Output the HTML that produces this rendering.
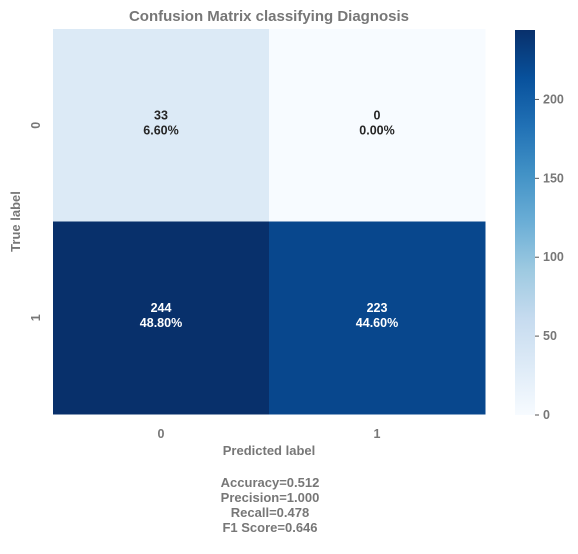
<!DOCTYPE html>
<html><head><meta charset="utf-8"><style>
body{margin:0;background:#fff;font-family:"Liberation Sans",sans-serif;}
svg text{font-family:"Liberation Sans",sans-serif;font-weight:bold;}
</style></head><body>
<svg id="c" width="578" height="549" xmlns="http://www.w3.org/2000/svg">
<defs><linearGradient id="cb" x1="0" y1="1" x2="0" y2="0"></linearGradient></defs>
</svg>
<script>
const rowLabels=["0","1"];
const colLabels=["0","1"];
const counts=[[33,0],[244,223]];
const percents=["6.60%","0.00%","48.80%","44.60%"];
const cbTicks=[0,50,100,150,200];
const metrics=["Accuracy=0.512","Precision=1.000","Recall=0.478","F1 Score=0.646"];
const vmin=0,vmax=244;
const blues=["#f7fbff","#deebf7","#c6dbef","#9ecae1","#6baed6","#4292c6","#2171b5","#08519c","#08306b"];
const ns="http://www.w3.org/2000/svg";
const svg=document.getElementById('c');
function hx(h){return [1,3,5].map(i=>parseInt(h.substr(i,2),16));}
function cmap(v){let t=(v-vmin)/(vmax-vmin)*(blues.length-1);let i=Math.min(Math.floor(t),blues.length-2);let f=t-i;const a=hx(blues[i]),b=hx(blues[i+1]);return `rgb(${a.map((x,k)=>Math.round(x+(b[k]-x)*f)).join(',')})`;}
function el(tag,attrs,text){const e=document.createElementNS(ns,tag);for(const k in attrs)e.setAttribute(k,attrs[k]);if(text!==undefined)e.textContent=text;svg.appendChild(e);return e;}
const X0=53,X1=485,Y0=29,Y1=414;
const cw=(X1-X0)/colLabels.length,ch=(Y1-Y0)/rowLabels.length;
const gray="#777";
let t=el('text',{x:(X0+X1)/2,y:21,'text-anchor':'middle','font-size':15,fill:gray},'Confusion Matrix classifying Diagnosis');

counts.forEach((row,r)=>row.forEach((v,c)=>{
  const x=X0+c*cw,y=Y0+r*ch;
  const rc=el('rect',{x:x,y:y,width:cw+0.5,height:ch+0.5,fill:cmap(v)});
  
  
  const col=(v-vmin)/(vmax-vmin)>0.6?'#fff':'#262626';
  const a=el('text',{x:x+cw/2,y:y+ch/2-6,'text-anchor':'middle','font-size':12.5,fill:col},String(v));
  
  const b=el('text',{x:x+cw/2,y:y+ch/2+9,'text-anchor':'middle','font-size':12.5,fill:col},percents[r*2+c]);
  
}));
colLabels.forEach((l,i)=>{const e=el('text',{x:X0+cw*(i+0.5),y:438,'text-anchor':'middle','font-size':12.5,fill:gray},l);
});
rowLabels.forEach((l,i)=>{const y=Y0+ch*(i+0.5);const e=el('text',{x:0,y:0,transform:`translate(40,${y}) rotate(-90)`,'text-anchor':'middle','font-size':12.5,fill:gray},l);
});
t=el('text',{x:(X0+X1)/2,y:455,'text-anchor':'middle','font-size':13,fill:gray},'Predicted label');

t=el('text',{x:0,y:0,transform:`translate(20,${(Y0+Y1)/2}) rotate(-90)`,'text-anchor':'middle','font-size':13,fill:gray},'True label');

metrics.forEach((m,i)=>{const e=el('text',{x:270,y:487+i*15,'text-anchor':'middle','font-size':13,fill:gray},m);
});
// colorbar
const CX=515,CW=20,CY0=30,CY1=415;
const g=svg.querySelector('#cb');
blues.forEach((b,i)=>{const s=document.createElementNS(ns,'stop');s.setAttribute('offset',i/(blues.length-1));s.setAttribute('stop-color',b);g.appendChild(s);});
t=el('rect',{x:CX,y:CY0,width:CW,height:CY1-CY0,fill:'url(#cb)'});

function cy(v){return CY1-(v-vmin)/(vmax-vmin)*(CY1-CY0);}
cbTicks.forEach(v=>{const y=cy(v);
  const l=el('line',{x1:CX+CW,x2:CX+CW+4,y1:y,y2:y,stroke:'#555','stroke-width':1});
  
  const e=el('text',{x:CX+CW+8,y:y+4,'font-size':12.5,fill:gray},String(v));
  });
</script>
</body></html>
